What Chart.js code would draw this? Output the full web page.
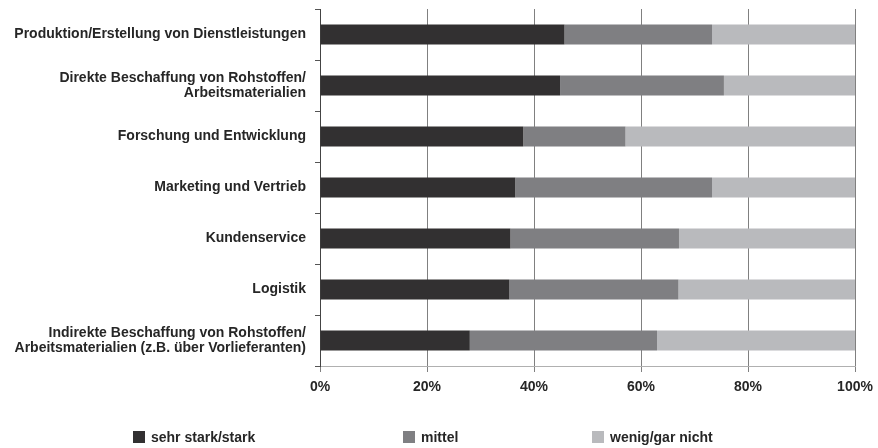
<!DOCTYPE html>
<html>
<head>
<meta charset="utf-8">
<script src="https://cdn.jsdelivr.net/npm/chart.js@4.4.1/dist/chart.umd.min.js"></script>
<style>
  html, body { margin: 0; padding: 0; background: #ffffff; }
  #wrap { width: 878px; height: 448px; }
</style>
</head>
<body>
<div id="wrap"><canvas id="chart" width="878" height="448"></canvas></div>
<script>
// Unternehmensbereiche (multi-line labels as arrays)
const categories = [
  'Produktion/Erstellung von Dienstleistungen',
  ['Direkte Beschaffung von Rohstoffen/', 'Arbeitsmaterialien'],
  'Forschung und Entwicklung',
  'Marketing und Vertrieb',
  'Kundenservice',
  'Logistik',
  ['Indirekte Beschaffung von Rohstoffen/', 'Arbeitsmaterialien (z.B. über Vorlieferanten)']
];

// Anteile in Prozent
const sehrStark = [45.7, 44.9, 38.0, 36.5, 35.6, 35.4, 28.0];
const mittel    = [27.6, 30.6, 19.1, 36.8, 31.5, 31.6, 35.0];
const wenig     = [26.7, 24.5, 42.9, 26.7, 32.9, 33.0, 37.0];

const seriesNames = ['sehr stark/stark', 'mittel', 'wenig/gar nicht'];
const xTickLabels = ['0%', '20%', '40%', '60%', '80%', '100%'];

const colors = ['#323031', '#7f7f82', '#b9babd'];
const FONT = 'Liberation Sans, Arial, Helvetica, sans-serif';
const TEXT_COLOR = '#262626';

// Legend entries drawn as fixed columns beneath the axis
const legendColumns = [133, 403, 592];
const columnLegend = {
  id: 'columnLegend',
  afterDraw(chart) {
    const ctx = chart.ctx;
    const y = 437;
    ctx.save();
    ctx.font = 'bold 14px ' + FONT;
    ctx.textBaseline = 'middle';
    ctx.textAlign = 'left';
    chart.data.datasets.forEach((ds, i) => {
      const x = legendColumns[i];
      ctx.fillStyle = ds.backgroundColor;
      ctx.fillRect(x, y - 6, 12, 12);
      ctx.fillStyle = TEXT_COLOR;
      ctx.fillText(ds.label, x + 18, y + 1);
    });
    ctx.restore();
  }
};

const seriesValues = [sehrStark, mittel, wenig];

new Chart(document.getElementById('chart'), {
  type: 'bar',
  data: {
    labels: categories,
    datasets: seriesNames.map((name, i) => ({
      label: name,
      data: seriesValues[i],
      backgroundColor: colors[i],
      borderWidth: 0,
      barPercentage: 0.52,
      categoryPercentage: 0.75
    }))
  },
  options: {
    indexAxis: 'y',
    responsive: false,
    animation: false,
    layout: { padding: { top: 9, right: 23, left: 0, bottom: 0 } },
    plugins: {
      legend: { display: false },
      tooltip: { enabled: false }
    },
    scales: {
      x: {
        stacked: true,
        min: 0,
        max: 100,
        afterFit(scale) {
          scale.height = 82;
          scale.paddingLeft = 0;
          scale.paddingRight = 0;
        },
        ticks: {
          stepSize: 20,
          padding: 7,
          color: TEXT_COLOR,
          font: { family: FONT, size: 14, weight: 'bold' },
          callback: (v) => xTickLabels[Math.round(v / 20)]
        },
        grid: {
          color: '#808080',
          lineWidth: 1,
          drawOnChartArea: true,
          drawTicks: true,
          tickLength: 6
        },
        border: { display: true, color: '#b0b0b0', width: 1 }
      },
      y: {
        stacked: true,
        afterFit(scale) {
          scale.width = 320;
          scale.paddingTop = 0;
          scale.paddingBottom = 0;
        },
        ticks: {
          padding: 9,
          color: TEXT_COLOR,
          font: { family: FONT, size: 14, weight: 'bold', lineHeight: 1.12 }
        },
        grid: {
          offset: true,
          drawOnChartArea: false,
          drawTicks: true,
          tickLength: 5,
          color: '#555555'
        },
        border: { display: true, color: '#444444', width: 1 }
      }
    }
  },
  plugins: [columnLegend]
});
</script>
</body>
</html>
